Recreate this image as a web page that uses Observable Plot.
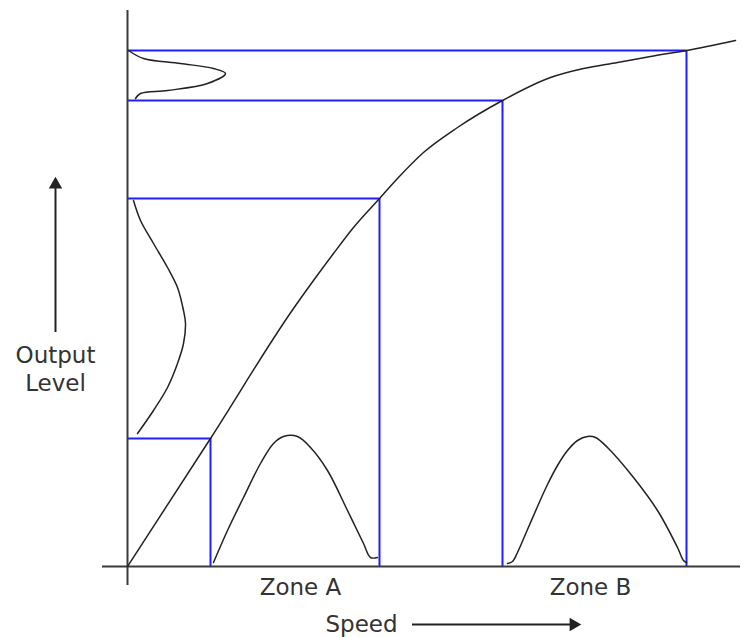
<!DOCTYPE html>
<html>
<head>
<meta charset="utf-8">
<script src="https://cdn.jsdelivr.net/npm/d3@7"></script>
<script src="https://cdn.jsdelivr.net/npm/@observablehq/plot@0.6"></script>
<style>
  html, body { margin: 0; padding: 0; background: #fff; }
  #chart svg { display: block; }
</style>
</head>
<body>
<div id="chart"></div>
<script>
// Transfer curve: speed -> output level (arbitrary units)
const curveSpeed  = [0, 83, 166, 186, 206, 226, 252, 270, 296, 330, 375, 423, 456, 490, 523, 559, 608];
const curveOutput = [0, 128, 258, 286, 313, 339, 368, 388, 414, 439, 466, 489, 498, 504, 510, 516, 526];

// Operating points (zone edges)
const opSpeed  = [83, 252, 375, 559];
const opOutput = [128, 368, 466, 516];

// Input speed distributions (Zone A, Zone B)
const zoneASpeed = [86, 100, 116, 133, 146, 156, 170, 183, 200, 220, 236, 243, 250];
const zoneAFreq  = [4, 36, 69, 103, 123, 130, 130, 119, 96, 56, 23, 9, 9];
const zoneBSpeed = [380, 385, 390, 400, 410, 420, 430, 440, 450, 460, 468, 480, 506, 530, 550, 556, 559];
const zoneBFreq  = [3, 5, 14, 37, 60, 82, 101, 116, 126, 130, 129, 119, 89, 56, 19, 6, 4];

// Output level distributions on the vertical axis
const outAFreq   = [6, 13, 26, 40, 50, 56, 58, 56, 50, 40, 26, 10];
const outALevel  = [366, 346, 323, 299, 279, 256, 243, 223, 203, 179, 156, 133];
const outBFreq   = [1, 16, 53, 86, 98, 80, 40, 13, 8];
const outBLevel  = [516, 508, 503, 498, 493, 483, 476, 473, 468];

// Labels
const zoneLabels = ["Zone A", "Zone B"];
const zoneLabelX = [173, 463];
const xLabel = "Speed";
const yLabelLines = ["Output", "Level"];

const toPts = (xs, ys) => xs.map((x, i) => ({x, y: ys[i]}));
const ops = opSpeed.map((s, i) => ({s, o: opOutput[i]}));

const BLUE = "#1e1eff";
const INK = "#222";
const AXIS = "#3a3a3a";
const FONT = "DejaVu Sans, Verdana, sans-serif";

const chart = Plot.plot({
  width: 753,
  height: 637,
  marginLeft: 127,
  marginRight: 0,
  marginTop: 10,
  marginBottom: 71,
  x: {domain: [0, 626], axis: null},
  y: {domain: [0, 556], axis: null},
  style: {fontFamily: FONT, background: "#fff", overflow: "visible"},
  marks: [
    // blue construction lines
    Plot.ruleY(ops, {y: "o", x1: 0, x2: "s", stroke: BLUE, strokeWidth: 2}),
    Plot.ruleX(ops, {x: "s", y1: 0, y2: "o", stroke: BLUE, strokeWidth: 2}),
    // axes
    Plot.ruleY([0], {x1: -25, x2: 613, stroke: AXIS, strokeWidth: 2}),
    Plot.ruleX([0], {y1: -19, y2: 556, stroke: AXIS, strokeWidth: 2}),
    // transfer curve
    Plot.line(toPts(curveSpeed, curveOutput), {x: "x", y: "y", stroke: INK, strokeWidth: 1.5, curve: "monotone-x"}),
    // input distributions
    Plot.line(toPts(zoneASpeed, zoneAFreq), {x: "x", y: "y", stroke: INK, strokeWidth: 1.5, curve: "catmull-rom"}),
    Plot.line(toPts(zoneBSpeed, zoneBFreq), {x: "x", y: "y", stroke: INK, strokeWidth: 1.5, curve: "catmull-rom"}),
    // output distributions
    Plot.line(toPts(outAFreq, outALevel), {x: "x", y: "y", stroke: INK, strokeWidth: 1.5, curve: "catmull-rom"}),
    Plot.line(toPts(outBFreq, outBLevel), {x: "x", y: "y", stroke: INK, strokeWidth: 1.5, curve: "catmull-rom"}),
    // zone labels
    Plot.text(zoneLabels.map((t, i) => ({t, x: zoneLabelX[i]})), {x: "x", y: -21, text: "t", fontSize: 23, fill: "#333"}),
    // x label + arrow
    Plot.text([xLabel], {x: 234, y: -58, text: d => d, fontSize: 23, fill: "#333"}),
    Plot.ruleY([-58], {x1: 285, x2: 444, stroke: INK, strokeWidth: 2}),
    Plot.dot([{x: 446, y: -58}], {x: "x", y: "y", symbol: "triangle", r: 5, fill: INK, stroke: null, rotate: 90}),
    // y label + arrow
    Plot.text(yLabelLines.map((t, i) => ({t, y: 211 - 28 * i})), {x: -72, y: "y", text: "t", fontSize: 23, fill: "#333"}),
    Plot.ruleX([-72], {y1: 234, y2: 380, stroke: INK, strokeWidth: 2}),
    Plot.dot([{x: -72, y: 382}], {x: "x", y: "y", symbol: "triangle", r: 5, fill: INK, stroke: null})
  ]
});
document.getElementById("chart").appendChild(chart);
</script>
</body>
</html>
